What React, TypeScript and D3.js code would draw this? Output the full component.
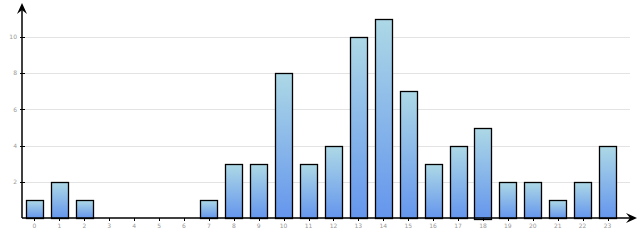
import React from "react";
import * as d3 from "d3";

const categories = ["0","1","2","3","4","5","6","7","8","9","10","11","12","13","14","15","16","17","18","19","20","21","22","23"];
const values = [1,2,1,0,0,0,0,1,3,3,8,3,4,10,11,7,3,4,5,2,2,1,2,4];
const yTicks = [2,4,6,8,10];

export default function App() {
  const W = 640, H = 240;
  const axisX = 22, baseY = 218;
  const x = d3.scaleBand<string>().domain(categories).range([22, 620]).paddingInner(0.32).paddingOuter(0.16);
  const y = d3.scaleLinear().domain([0, 10]).range([baseY, 37]);
  return (
    <svg width={W} height={H} style={{ position: "absolute", left: 0, top: 0 }}>
      <defs>
        <linearGradient id="g" x1="0" y1="0" x2="0" y2="1">
          <stop offset="0" stopColor="#add8e6" />
          <stop offset="1" stopColor="#6495ed" />
        </linearGradient>
      </defs>
      {yTicks.map(t => (
        <line key={"g"+t} x1={axisX} x2={630} y1={Math.round(y(t)) + 0.5} y2={Math.round(y(t)) + 0.5} stroke="#e3e3e3" strokeWidth={1} />
      ))}
      {values.map((v, i) => v > 0 ? (
        <rect key={i} x={Math.round(x(categories[i])!) + 0.5} y={Math.round(y(v)) + 0.5} width={Math.round(x.bandwidth())} height={Math.round(baseY - y(v))}
          fill="url(#g)" stroke="#000" strokeWidth={1.3} />
      ) : null)}
      <line x1={axisX} x2={axisX} y1={baseY} y2={8} stroke="#000" strokeWidth={1.5} />
      <line x1={axisX} x2={632} y1={baseY} y2={baseY} stroke="#000" strokeWidth={1.5} />
      <path d={`M${axisX},3 L${axisX+5},14 L${axisX},10 L${axisX-5},14 Z`} fill="#000" />
      <path d={`M637,${baseY} L626,${baseY-5} L630,${baseY} L626,${baseY+5} Z`} fill="#000" />
      <g opacity={0.99}>
        {yTicks.map(t => (
          <g key={"t"+t}>
            <line x1={axisX-2} x2={axisX+3} y1={Math.round(y(t)) + 0.5} y2={Math.round(y(t)) + 0.5} stroke="#000" strokeWidth={1} />
            <text x={axisX-5} y={y(t)} dy="0.35em" textAnchor="end" fontSize={6} fontFamily="DejaVu Sans" fill="#999">{t}</text>
          </g>
        ))}
        {categories.map(c => {
          const cx = x(c)! + x.bandwidth() / 2;
          return (
            <g key={"x"+c}>
              <line x1={Math.round(cx)+0.5} x2={Math.round(cx)+0.5} y1={baseY} y2={baseY+3} stroke="#000" strokeWidth={1} />
              <text x={cx} y={228} textAnchor="middle" fontSize={6} fontFamily="DejaVu Sans" fill="#999">{c}</text>
            </g>
          );
        })}
      </g>
    </svg>
  );
}
